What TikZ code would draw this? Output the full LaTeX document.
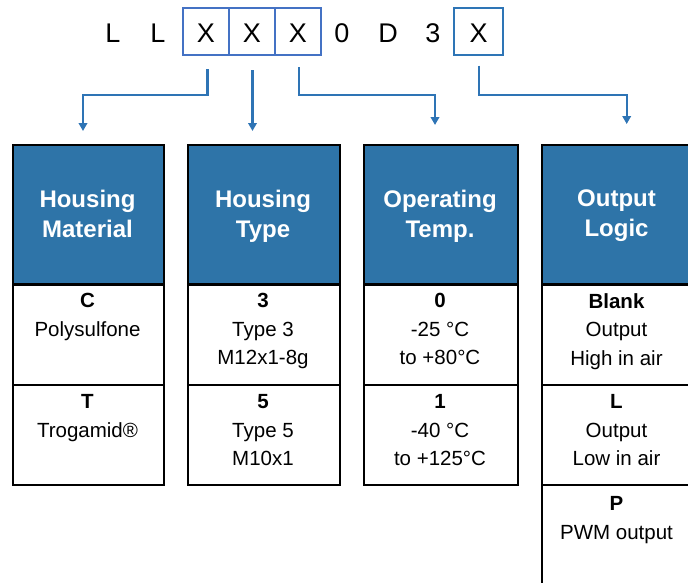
\documentclass[tikz,border=0pt]{standalone}
\usepackage{fontspec}
\setmainfont{Liberation Sans}
\usetikzlibrary{arrows.meta}
\definecolor{hdrblue}{RGB}{46,116,168}
\definecolor{boxblue}{RGB}{68,114,196}
\definecolor{boxblueb}{RGB}{46,117,182}
\definecolor{arrblue}{RGB}{46,116,181}
\begin{document}
\begin{tikzpicture}[x=1pt,y=-1pt,
  code/.style={font=\fontsize{27}{27}\selectfont, inner sep=0pt, anchor=base},
  codebox/.style={code, draw=boxblue, line width=2pt, minimum width=46pt, minimum height=47pt, text height=22.4pt, text depth=0pt, anchor=center},
  hdr/.style={draw=black, line width=2pt, fill=hdrblue, minimum height=139pt, inner sep=0pt, anchor=north west},
  cellbox/.style={draw=black, line width=2pt, minimum height=100pt, inner sep=0pt, anchor=north west},
  hdrtext/.style={text=white, font=\bfseries\fontsize{24}{30.5}\selectfont, align=center, inner sep=0pt, anchor=north},
  celltext/.style={font=\fontsize{20.5}{28.7}\selectfont, align=center, inner sep=0pt, anchor=north},
  conn/.style={draw=arrblue, line width=2.1pt, -{Triangle[length=8pt,width=8.5pt]}}
]
\useasboundingbox (0,0) rectangle (688,582);
\clip (0,0) rectangle (688,582);

% code line
\node[code] (l1) at (113,42.7) {L};
\node[code] (l2) at (158,42.7) {L};
\node[codebox] (b1) at (206,31.5) {X};
\node[codebox] (b2) at (252,31.5) {X};
\node[codebox] (b3) at (298,31.5) {X};
\node[code] (d0) at (342,42.7) {0};
\node[code] (dd) at (388,42.7) {D};
\node[code] (d3) at (433,42.7) {3};
\node[codebox, draw=boxblueb, minimum width=49pt] (b4) at (478.5,31.5) {X};

% columns
\node[hdr, minimum width=151pt] (h1) at (12,144) {};
\node[hdr, minimum width=152pt] (h2) at (187,144) {};
\node[hdr, minimum width=154pt] (h3) at (363,144) {};
\node[hdr, minimum width=151pt] (h4) at (541,144) {};

\node[cellbox, minimum width=151pt] (c1a) at (12,283.5) {};
\node[cellbox, minimum width=151pt] (c1b) at (12,384) {};
\node[cellbox, minimum width=152pt] (c2a) at (187,283.5) {};
\node[cellbox, minimum width=152pt] (c2b) at (187,384) {};
\node[cellbox, minimum width=154pt] (c3a) at (363,283.5) {};
\node[cellbox, minimum width=154pt] (c3b) at (363,384) {};
\node[cellbox, minimum width=151pt] (c4a) at (541,283.5) {};
\node[cellbox, minimum width=151pt] (c4b) at (541,384) {};
\node[cellbox, minimum width=151pt, minimum height=130pt] (c4c) at (541,484) {};

% header texts
\node[hdrtext] (t1) at (87.5,189.5) {Housing\\Material};
\node[hdrtext] (t2) at (263,189.5) {Housing\\Type};
\node[hdrtext] (t3) at (440,189.5) {Operating\\Temp.};
\node[hdrtext] (t4) at (616.5,189.5) {Output\\Logic};

% cell texts
\node[celltext] (x1a) at (87.5,293) {\textbf{C}\\Polysulfone};
\node[celltext] (x1b) at (87.5,394) {\textbf{T}\\Trogamid®};
\node[celltext] (x2a) at (263,293) {\textbf{3}\\Type 3\\M12x1-8g};
\node[celltext] (x2b) at (263,394) {\textbf{5}\\Type 5\\M10x1};
\node[celltext] (x3a) at (440,293) {\textbf{0}\\-25 °C\\to +80°C};
\node[celltext] (x3b) at (440,394) {\textbf{1}\\-40 °C\\to +125°C};
\node[celltext] (x4a) at (616.5,293) {\textbf{Blank}\\Output\\High in air};
\node[celltext] (x4b) at (616.5,394) {\textbf{L}\\Output\\Low in air};
\node[celltext] (x4c) at (616.5,496) {\textbf{P}\\PWM output};

% connectors
\draw[conn] ([xshift=1.5pt,yshift=-13pt]b1.south) |- ++(0,26) -| ([xshift=-5.5pt,yshift=13pt]h1.north);
\draw[conn] ([xshift=0.5pt,yshift=-14pt]b2.south) -- ([xshift=0.5pt,yshift=13pt]b2.south |- h2.north);
\draw[conn] ([xshift=1.3pt,yshift=-11pt]b3.south) -- ++(0,28) -| ([xshift=-6pt,yshift=19pt]h3.north);
\draw[conn] ([xshift=0.8pt,yshift=-9.5pt]b4.south) -- ++(0,29.5) -| ([xshift=9.2pt,yshift=20pt]h4.north);
\end{tikzpicture}
\end{document}
